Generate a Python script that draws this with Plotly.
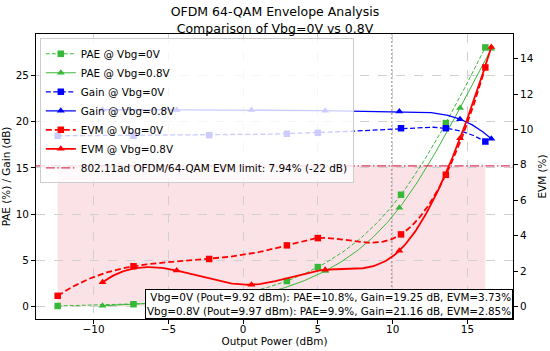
import numpy as np
import plotly.graph_objects as go

# ---------------- data ----------------
pout_0v = [-12.4, -7.33, -2.27, 2.93, 5.0, 10.56, 13.56, 16.2]
pae_0v = [0.06, 0.25, 0.85, 2.76, 4.27, 12.1, 19.85, 28.05]
gain_0v = [18.48, 18.5, 18.55, 18.7, 18.8, 19.3, 19.3, 17.86]
evm_0v = [0.6, 2.27, 2.68, 3.45, 3.86, 4.07, 7.44, 13.5]

pout_08v = [-9.4, -4.44, 0.56, 5.49, 10.45, 14.51, 16.6]
pae_08v = [0.08, 0.4, 1.15, 3.85, 10.68, 21.5, 27.9]
gain_08v = [21.3, 21.28, 21.28, 21.2, 21.1, 20.28, 18.15]
evm_08v = [1.36, 2.03, 1.23, 2.07, 3.15, 9.5, 14.65]

evm_limit = 7.94
pout_marks = [9.92, 9.97]
summary_lines = [
    "Vbg=0V (Pout=9.92 dBm): PAE=10.8%, Gain=19.25 dB, EVM=3.73%",
    "Vbg=0.8V (Pout=9.97 dBm): PAE=9.9%, Gain=21.16 dB, EVM=2.85%",
]

GREEN = "rgb(55,185,55)"
BLUE = "rgb(0,0,255)"
RED = "rgb(255,0,0)"
CRIMSON = "rgba(220,20,60,0.85)"
FS = 10.4


def cubic_notaknot(x, y, per_seg=40):
    x = np.asarray(x, float)
    y = np.asarray(y, float)
    n = len(x)
    h = np.diff(x)
    A = np.zeros((n, n))
    b = np.zeros(n)
    A[0, 0], A[0, 1], A[0, 2] = h[1], -(h[0] + h[1]), h[0]
    for i in range(1, n - 1):
        A[i, i - 1] = h[i - 1]
        A[i, i] = 2 * (h[i - 1] + h[i])
        A[i, i + 1] = h[i]
        b[i] = 6 * ((y[i + 1] - y[i]) / h[i] - (y[i] - y[i - 1]) / h[i - 1])
    A[n - 1, n - 3], A[n - 1, n - 2], A[n - 1, n - 1] = h[n - 2], -(h[n - 3] + h[n - 2]), h[n - 3]
    M = np.linalg.solve(A, b)
    xs, ys, knot = [], [], []
    for i in range(n - 1):
        t = np.linspace(x[i], x[i + 1], per_seg, endpoint=False)
        hi = h[i]
        s = (M[i] * (x[i + 1] - t) ** 3 / (6 * hi) + M[i + 1] * (t - x[i]) ** 3 / (6 * hi)
             + (y[i] / hi - M[i] * hi / 6) * (x[i + 1] - t)
             + (y[i + 1] / hi - M[i + 1] * hi / 6) * (t - x[i]))
        xs.extend(t.tolist())
        ys.extend(s.tolist())
        knot.extend([True] + [False] * (per_seg - 1))
    xs.append(float(x[-1]))
    ys.append(float(y[-1]))
    knot.append(True)
    return xs, ys, knot


def series(x, y, name, color, symbol, dash, width, msize, yaxis="y"):
    xs, ys, knot = cubic_notaknot(x, y)
    mcol = [color if k else "rgba(0,0,0,0)" for k in knot]
    return go.Scatter(
        x=xs, y=ys, name=name, mode="lines+markers", yaxis=yaxis,
        line=dict(color=color, width=width, dash=dash),
        marker=dict(symbol=symbol, size=msize, color=mcol, line=dict(width=0)),
        hoverinfo="skip",
    )


fig = go.Figure()
fig.add_trace(series(pout_0v, pae_0v, "PAE @ Vbg=0V", GREEN, "square", "4px,2px", 1.0, 6.5))
fig.add_trace(series(pout_08v, pae_08v, "PAE @ Vbg=0.8V", GREEN, "triangle-up", "solid", 1.0, 7))
fig.add_trace(series(pout_0v, gain_0v, "Gain @ Vbg=0V", BLUE, "square", "5px,2.5px", 1.3, 6.5))
fig.add_trace(series(pout_08v, gain_08v, "Gain @ Vbg=0.8V", BLUE, "triangle-up", "solid", 1.3, 7))
fig.add_trace(series(pout_0v, evm_0v, "EVM @ Vbg=0V", RED, "square", "6px,3px", 1.8, 6.5, "y2"))
fig.add_trace(series(pout_08v, evm_08v, "EVM @ Vbg=0.8V", RED, "triangle-up", "solid", 1.8, 7, "y2"))

# shaded compliant region
fig.add_shape(type="rect", xref="x", yref="y2", x0=min(pout_0v), x1=max(pout_0v),
              y0=0, y1=evm_limit, fillcolor="rgba(220,20,60,0.12)", line=dict(width=0),
              layer="below")
# EVM limit line
fig.add_shape(type="line", xref="x domain", yref="y2", x0=0, x1=1, y0=evm_limit, y1=evm_limit,
              line=dict(color=CRIMSON, width=1.3, dash="9px,2.5px,1.5px,2.5px"),
              showlegend=True,
              name="802.11ad OFDM/64-QAM EVM limit: 7.94% (-22 dB)")
for p in pout_marks:
    fig.add_shape(type="line", xref="x", yref="paper", x0=p, x1=p, y0=0, y1=1,
                  line=dict(color="rgba(120,120,120,0.5)", width=1, dash="2px,2px"),
                  layer="below")

fig.add_annotation(xref="paper", yref="paper", x=1, y=0, xanchor="right", yanchor="bottom",
                   text="<br>".join(summary_lines), align="right", showarrow=False,
                   bgcolor="white", bordercolor="black", borderwidth=1, borderpad=1,
                   font=dict(size=FS, color="black"))

fig.update_layout(
    width=550, height=351,
    margin=dict(l=36, r=37, t=34, b=32),
    paper_bgcolor="white", plot_bgcolor="white",
    font=dict(family="DejaVu Sans", size=FS, color="black"),
    title=dict(text="OFDM 64-QAM Envelope Analysis<br>Comparison of Vbg=0V vs 0.8V",
               x=0.5, xanchor="center", yref="container", y=0.953, yanchor="middle",
               font=dict(size=12.5)),
    legend=dict(x=0.008, y=0.985, xanchor="left", yanchor="top",
                bgcolor="rgba(255,255,255,0.8)", bordercolor="#cccccc", borderwidth=1,
                font=dict(size=FS), tracegroupgap=0, itemwidth=30),
    showlegend=True,
    xaxis=dict(range=[-13.85, 18.05], dtick=5, showline=True, linecolor="black", linewidth=1,
               mirror=True, ticks="outside", ticklen=4, tickcolor="black",
               showgrid=True, gridcolor="#d0d0d0", griddash="dash", zeroline=False,
               automargin=False, ticklabelstandoff=-3,
               title=dict(text="Output Power (dBm)", font=dict(size=FS), standoff=2)),
    yaxis=dict(range=[-1.35, 29.5], dtick=5, showline=True, linecolor="black", linewidth=1,
               ticks="outside", ticklen=4, tickcolor="black", automargin=False,
               showgrid=True, gridcolor="#d0d0d0", griddash="dash", zeroline=False,
               title=dict(text="PAE (%) / Gain (dB)", font=dict(size=FS), standoff=6)),
    yaxis2=dict(range=[-0.71, 15.39], dtick=2, overlaying="y", side="right",
                showline=True, linecolor="black", linewidth=1, automargin=False,
                ticks="outside", ticklen=4, tickcolor="black",
                showgrid=False, zeroline=False,
                title=dict(text="EVM (%)", font=dict(size=FS), standoff=6)),
)

fig.write_html("out.html", config={"displayModeBar": False},
               post_script="document.body.style.margin='0';document.body.style.padding='0';")
